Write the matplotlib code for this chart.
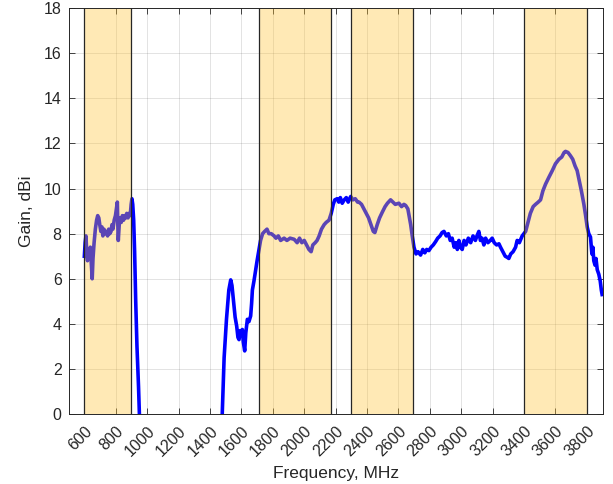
import matplotlib
matplotlib.use("Agg")
import matplotlib.pyplot as plt
import numpy as np

plt.rcParams['font.family'] = ['Liberation Sans', 'DejaVu Sans']

freq = [600, 605, 610, 615, 620, 625, 632, 638, 645, 650, 655, 662, 670, 678, 685, 692, 698,
        705, 712, 718, 725, 732, 740, 748, 755, 762, 770, 776, 782, 790, 798, 804, 810, 813,
        816, 822, 828, 835, 842, 850, 857, 864, 870, 878, 885, 892, 898, 903, 908, 914, 920,
        927, 935, 945, 955, 970,
        1460, 1470, 1478, 1490, 1505, 1520, 1532, 1540, 1550, 1560, 1570, 1578, 1585, 1592,
        1598, 1606, 1612, 1621, 1628, 1638, 1648, 1659, 1665, 1670, 1680, 1691, 1700, 1712,
        1722, 1735, 1748, 1763, 1775, 1790, 1808, 1820, 1835, 1850, 1872, 1890, 1910, 1936,
        1955, 1970, 1985, 2000, 2015, 2030, 2044, 2055, 2070, 2082, 2095, 2110, 2127, 2140,
        2158, 2172, 2185, 2195, 2210, 2220, 2230, 2242, 2255, 2268, 2280, 2296, 2310, 2325,
        2340, 2349, 2365, 2380, 2395, 2410, 2425, 2440, 2450, 2465, 2480, 2497, 2515, 2530,
        2550, 2565, 2580, 2603, 2620, 2635, 2646, 2660, 2670, 2678, 2688, 2699, 2712, 2725,
        2741, 2755, 2768, 2780, 2794, 2808, 2822, 2837, 2850, 2865, 2878, 2890, 2905, 2918,
        2930, 2942, 2955, 2965, 2975, 2985, 2995, 3006, 3018, 3030, 3045, 3060, 3075, 3090,
        3100, 3112, 3122, 3132, 3144, 3155, 3170, 3185, 3197, 3210, 3225, 3240, 3250, 3265,
        3280, 3293, 3303, 3315, 3330, 3346, 3356, 3370, 3388, 3399, 3410, 3425, 3440, 3458,
        3473, 3490, 3505, 3520, 3537, 3558, 3580, 3600, 3622, 3640, 3655, 3664, 3680, 3696,
        3710, 3725, 3738, 3750, 3765, 3781, 3792, 3802, 3812, 3823, 3832, 3838, 3844, 3852,
        3858, 3866, 3876, 3885, 3892, 3897]

gain = [7.0, 7.6, 7.9, 7.2, 6.8, 7.3, 7.0, 7.4, 6.6, 6.0, 6.9, 7.6, 8.2, 8.6, 8.8, 8.7, 8.4,
        8.1, 8.3, 7.9, 8.2, 8.0, 8.1, 7.9, 8.2, 8.0, 8.1, 8.4, 8.2, 8.6, 8.8, 9.1, 9.4, 8.4,
        7.7, 8.4, 8.7, 8.5, 8.8, 8.6, 8.8, 8.7, 8.9, 8.7, 8.9, 8.8, 9.3, 9.55, 9.3, 8.6, 7.2,
        5.0, 3.0, 1.2, -1.0, -10.0,
        -10.0, -3.0, 0.0, 2.5, 4.2, 5.5, 5.95, 5.7, 5.0, 4.3, 3.9, 3.4, 3.3, 3.7,
        3.5, 3.75, 3.2, 2.8, 3.6, 4.2, 4.1, 4.35, 4.9, 5.5, 5.9, 6.4, 6.8, 7.3,
        7.7, 8.0, 8.1, 8.2, 8.0, 8.0, 7.9, 7.8, 7.9, 7.7, 7.8, 7.7, 7.8, 7.75,
        7.6, 7.8, 7.6, 7.7, 7.5, 7.3, 7.2, 7.5, 7.6, 7.7, 7.9, 8.2, 8.4, 8.5,
        8.6, 8.9, 9.3, 9.5, 9.55, 9.4, 9.6, 9.35, 9.5, 9.6, 9.4, 9.65, 9.5, 9.55,
        9.4, 9.4, 9.3, 9.1, 8.9, 8.7, 8.4, 8.1, 8.05, 8.4, 8.7, 8.95, 9.2, 9.35,
        9.5, 9.4, 9.3, 9.35, 9.2, 9.3, 9.25, 9.1, 8.7, 8.4, 7.9, 7.4, 7.1, 7.2,
        7.05, 7.3, 7.15, 7.3, 7.25, 7.4, 7.5, 7.65, 7.8, 7.9, 8.05, 8.1, 7.9, 8.0,
        7.7, 7.8, 7.4, 7.6, 7.3, 7.7, 7.4, 7.3, 7.7, 7.5, 7.8, 7.6, 7.9, 7.7,
        7.9, 8.1, 7.7, 7.8, 7.5, 7.8, 7.6, 7.7, 7.8, 7.6, 7.5, 7.55, 7.4, 7.2,
        7.0, 6.95, 6.9, 7.1, 7.2, 7.4, 7.7, 7.6, 7.9, 8.0, 8.1, 8.5, 8.9, 9.2,
        9.3, 9.4, 9.5, 9.9, 10.2, 10.5, 10.8, 11.1, 11.3, 11.4, 11.6, 11.65, 11.6, 11.45,
        11.3, 11.0, 10.8, 10.4, 9.9, 9.3, 8.8, 8.3, 8.0, 7.85, 7.1, 7.4, 6.8, 6.6,
        6.9, 6.4, 6.2, 5.9, 5.5, 5.3]

band_starts = [600, 1710, 2300, 3400]
band_ends = [900, 2170, 2690, 3800]

xticks = list(range(600, 3801, 200))
yticks = list(range(0, 19, 2))

fig = plt.figure(figsize=(6.13, 4.84), dpi=100)
ax = fig.add_axes([0.112, 0.1446, 0.871, 0.8384])

ax.plot(freq, gain, color=(0, 0, 1), lw=2.6, zorder=2)

for s, e in zip(band_starts, band_ends):
    ax.axvspan(s, e, facecolor=(1.0, 0.76, 0.2), alpha=0.36, lw=0, zorder=3)
    ax.axvline(s, color=(0.15, 0.15, 0.15), lw=0.9, zorder=4)
    ax.axvline(e, color=(0.15, 0.15, 0.15), lw=0.9, zorder=4)

ax.set_xlim(500, 3900)
ax.set_ylim(0, 18)
ax.set_xticks(xticks)
ax.set_xticklabels([str(t) for t in xticks], rotation=45, ha='right',
                   rotation_mode='anchor')
ax.set_yticks(yticks)
ax.grid(True, color=(0.15, 0.15, 0.15), alpha=0.15, lw=0.6)
ax.set_axisbelow(True)
ax.tick_params(direction='in', top=True, right=True, length=4, width=0.6,
               labelsize=11.5, colors=(0.15, 0.15, 0.15))
ax.tick_params(axis='x', pad=7)
ax.tick_params(axis='y', pad=5)
for sp in ax.spines.values():
    sp.set_color((0.15, 0.15, 0.15))
    sp.set_linewidth(0.7)
    sp.set_zorder(5)

ax.set_xlabel('Frequency, MHz', fontsize=12.5, color=(0.15, 0.15, 0.15), labelpad=5)
ax.set_ylabel('Gain, dBi', fontsize=12.5, color=(0.15, 0.15, 0.15), labelpad=7)

fig.savefig('out.png', dpi=100)
